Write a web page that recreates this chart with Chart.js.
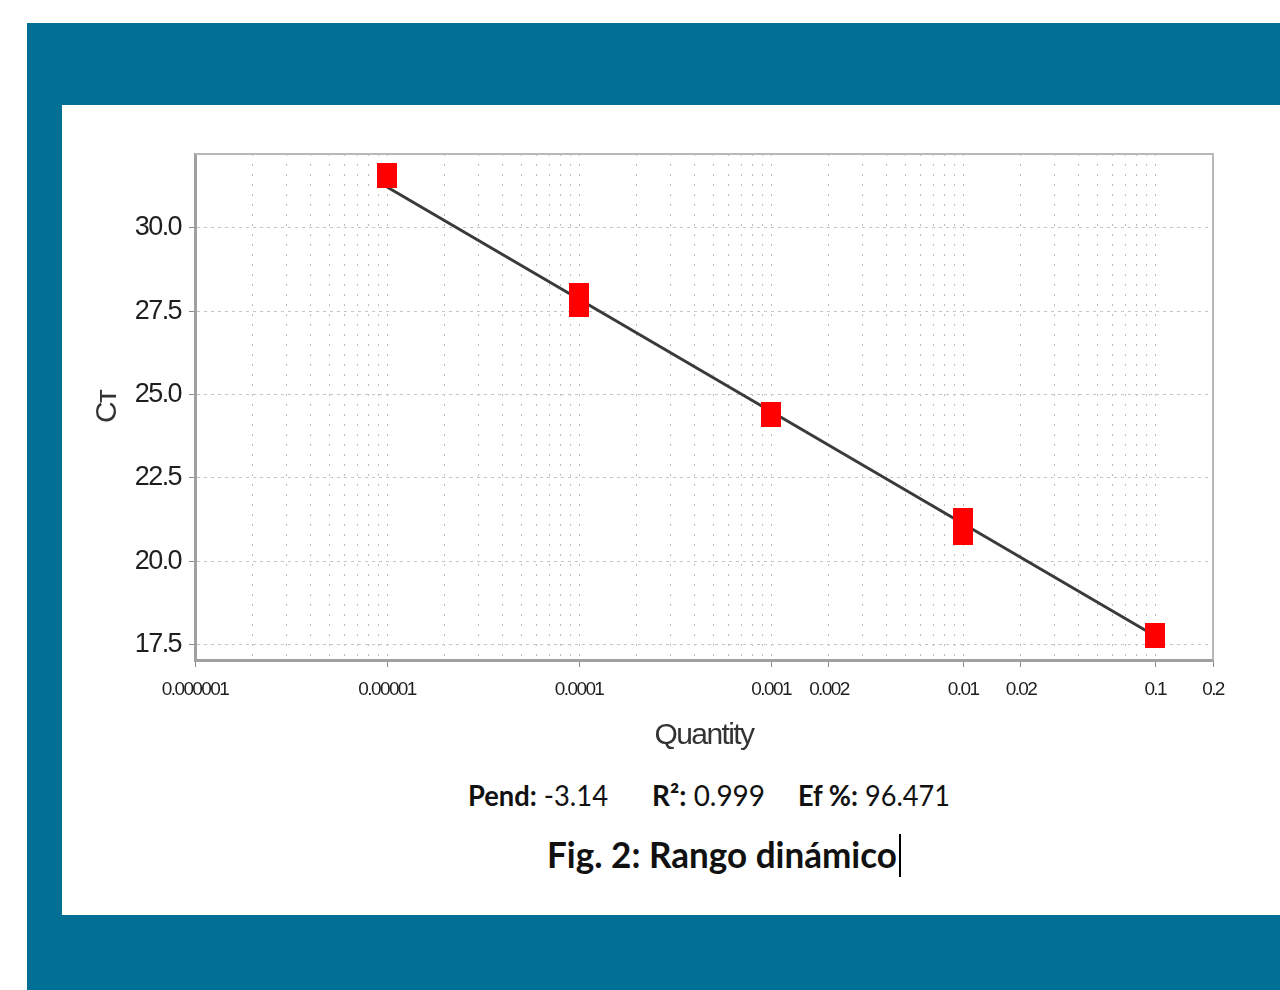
<!DOCTYPE html>
<html>
<head>
<meta charset="utf-8">
<script src="https://cdn.jsdelivr.net/npm/chart.js@4.4.1/dist/chart.umd.min.js"></script>
<style>
  html, body { margin: 0; padding: 0; background: #fff; }
  body { width: 1280px; height: 990px; position: relative; overflow: hidden; }
  #frame { position: absolute; left: 27px; top: 23px; width: 1253px; height: 967px; background: #027094; }
  #panel { position: absolute; left: 62px; top: 105px; width: 1218px; height: 810px; background: #fff; }
  #qpcr { position: absolute; left: 62px; top: 105px; }
  .txt { position: absolute; font-family: Lato, 'Noto Sans', sans-serif; color: #111; white-space: nowrap; line-height: 1; transform-origin: 0 0; }
  .txt b { font-weight: 700; }
  .stat { font-size: 28px; top: 781px; }
  #fig { font-size: 36px; top: 836px; left: 547px; font-weight: 700; }
  #caret { position: absolute; left: 899px; top: 834px; width: 2px; height: 43px; background: #000; }
</style>
</head>
<body>
<div id="frame"></div>
<div id="panel"></div>
<canvas id="qpcr" width="1218" height="660"></canvas>
<div class="txt stat" id="s0" style="left:468px"></div>
<div class="txt stat" id="s1" style="left:652px"></div>
<div class="txt stat" id="s2" style="left:798px"></div>
<div class="txt" id="fig">Fig. 2: Rango dinámico</div>
<div id="caret"></div>
<script>
'use strict';

// standard curve points (quantity vs Ct)
const quantity = [1e-5, 1e-4, 1e-4, 1e-3, 1e-2, 1e-2, 0.1];
const ctValues = [31.56, 27.97, 27.70, 24.41, 21.22, 20.86, 17.78];

// fitted line
const fitQuantity = [1e-5, 0.1];
const fitCt = [31.23, 17.75];

const xTickValues = [1e-6, 1e-5, 1e-4, 1e-3, 0.002, 0.01, 0.02, 0.1, 0.2];
const xTickLabels = ['0.000001', '0.00001', '0.0001', '0.001', '0.002', '0.01', '0.02', '0.1', '0.2'];
const yTickValues = [17.5, 20.0, 22.5, 25.0, 27.5, 30.0];

const statNames = ['Pend:', 'R²:', 'Ef %:'];
const statValues = ['-3.14', '0.999', '96.471'];

const axisFont = "'Liberation Sans', Arial, sans-serif";

// minor log grid 1..9 per decade
const xGrid = [];
for (let e = -6; e <= -1; e++) {
  for (let m = 1; m <= 9; m++) {
    const v = m * Math.pow(10, e);
    if (v <= 0.2 + 1e-12) xGrid.push(v);
  }
}

function labelFor(v) {
  for (let i = 0; i < xTickValues.length; i++) {
    if (Math.abs(v / xTickValues[i] - 1) < 1e-6) return xTickLabels[i];
  }
  return '';
}

const marker = document.createElement('canvas');
marker.width = 20;
marker.height = 25;
const mctx = marker.getContext('2d');
mctx.fillStyle = '#ff0000';
mctx.fillRect(0, 0, 20, 25);

// axis text in the picture is squeezed, tighten the letters a bit
const tightText = {
  id: 'tightText',
  beforeLayout(chart) { chart.ctx.letterSpacing = '-1.6px'; },
  beforeDraw(chart) { chart.ctx.letterSpacing = '-1.6px'; }
};

const frameLines = {
  id: 'frameLines',
  beforeDatasetsDraw(chart) {
    const { ctx, chartArea: a } = chart;
    ctx.save();
    ctx.strokeStyle = '#b8b8b8';
    ctx.lineWidth = 2;
    ctx.beginPath();
    ctx.moveTo(a.left, a.top);
    ctx.lineTo(a.right, a.top);
    ctx.lineTo(a.right, a.bottom);
    ctx.stroke();
    ctx.restore();
  }
};

const context = document.querySelector('#qpcr').getContext('2d');
new Chart(context, {
  type: 'scatter',
  data: {
    datasets: [{
      data: quantity.map(function (q, i) { return { x: q, y: ctValues[i] }; }),
      pointStyle: marker,
      pointRadius: 12,
      showLine: false
    }, {
      data: fitQuantity.map(function (q, i) { return { x: q, y: fitCt[i] }; }),
      showLine: true,
      borderColor: '#3a3a3a',
      borderWidth: 3,
      pointRadius: 0
    }]
  },
  options: {
    responsive: false,
    animation: false,
    layout: { padding: { top: 49, right: 67, left: 0, bottom: 0 } },
    plugins: {
      legend: { display: false },
      tooltip: { enabled: false }
    },
    scales: {
      x: {
        type: 'logarithmic',
        min: 1e-6,
        max: 0.2,
        afterBuildTicks: function (scale) {
          scale.ticks = xGrid.map(function (v) { return { value: v }; });
        },
        afterFit: function (scale) { scale.height = 105; },
        ticks: {
          autoSkip: false,
          maxRotation: 0,
          padding: 11,
          color: '#1e1e1e',
          font: { family: axisFont, size: 19 },
          callback: function (v) { return labelFor(v); }
        },
        grid: {
          color: '#bdbdbd',
          lineWidth: 1,
          tickLength: 7,
          tickColor: function (c) { return c.tick && labelFor(c.tick.value) ? '#8a8a8a' : 'rgba(0,0,0,0)'; }
        },
        border: { color: '#a0a0a0', width: 3, dash: [2, 8] },
        title: {
          display: true,
          text: 'Quantity',
          color: '#333',
          font: { family: axisFont, size: 30 },
          padding: { top: 0, bottom: 11 }
        }
      },
      y: {
        min: 17.03,
        max: 32.22,
        afterBuildTicks: function (scale) {
          scale.ticks = yTickValues.map(function (v) { return { value: v }; });
        },
        afterFit: function (scale) { scale.width = 133; },
        ticks: {
          padding: 8,
          color: '#1e1e1e',
          font: { family: axisFont, size: 27 },
          callback: function (v) { return v.toFixed(1); }
        },
        grid: {
          color: '#c4c4c4',
          lineWidth: 1,
          tickLength: 6,
          tickColor: '#8a8a8a'
        },
        border: { color: '#a0a0a0', width: 3, dash: [3, 4] },
        title: {
          display: true,
          text: 'Cᴛ',
          color: '#333',
          font: { family: axisFont, size: 30 },
          padding: { top: 28, bottom: 0 }
        }
      }
    }
  },
  plugins: [tightText, frameLines]
});

// stats line under the chart
const statTargets = [140, 113, 152];
for (let i = 0; i < statNames.length; i++) {
  document.querySelector('#s' + i).innerHTML = '<b>' + statNames[i] + '</b> ' + statValues[i];
}

function fitWidth(el, w) {
  const s = w / el.getBoundingClientRect().width;
  el.style.transform = 'scaleX(' + s + ')';
}
document.fonts.ready.then(function () {
  for (let i = 0; i < statNames.length; i++) fitWidth(document.querySelector('#s' + i), statTargets[i]);
  fitWidth(document.querySelector('#fig'), 350);
});
</script>
</body>
</html>
